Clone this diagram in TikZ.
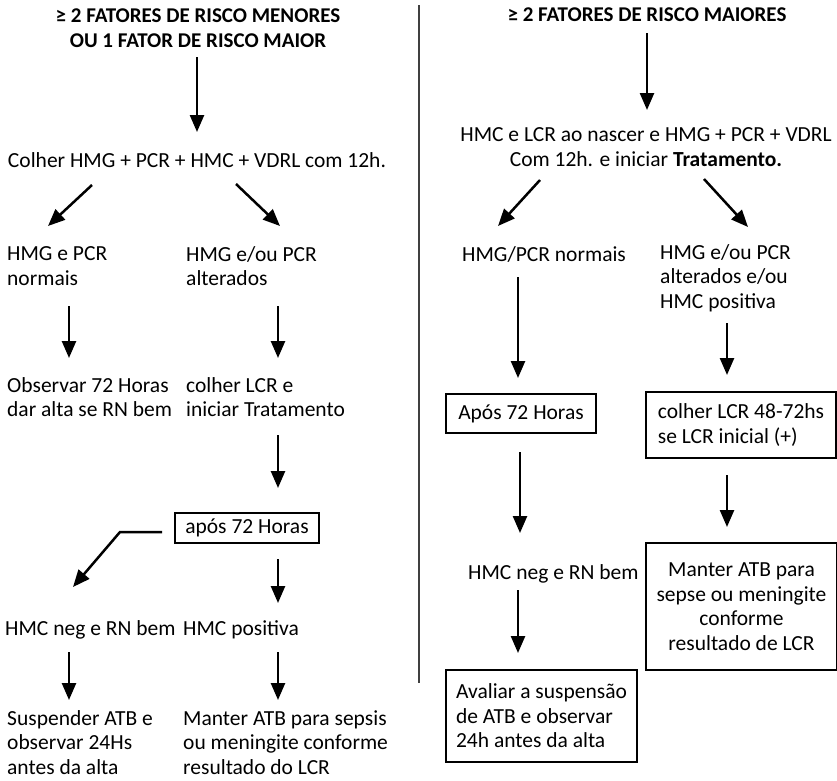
\documentclass[tikz,border=0pt]{standalone}
\usepackage{fontspec}
\setmainfont{Carlito}
\usetikzlibrary{arrows.meta}
\begin{document}
\begin{tikzpicture}[x=1pt,y=-1pt,
  txt/.style={inner sep=0pt, align=left, anchor=west, font=\fontsize{21.5}{24.5}\selectfont},
  ctxt/.style={inner sep=0pt, align=center, font=\fontsize{21.5}{24.5}\selectfont},
  head/.style={inner sep=0pt, align=center, font=\fontsize{21}{24.5}\selectfont\bfseries},
  box/.style={draw, line width=2pt, inner sep=0pt, font=\fontsize{21.5}{24.5}\selectfont},
  arr/.style={line width=2.5pt, -{Triangle[length=17pt,width=14pt]}},
  divider/.style={line width=1.2pt, black!75}]
\useasboundingbox (0,0) rectangle (837,780);

% ---------- left branch: minor risk factors ----------
\node[head] (t1) at (198,28) {≥ 2 FATORES DE RISCO MENORES\\OU 1 FATOR DE RISCO MAIOR};
\node[ctxt] (c1) at (197,160) {Colher HMG + PCR + HMC + VDRL com 12h.};
\node[txt] (l1) at (7,266) {HMG e PCR\\normais};
\node[txt] (r1) at (186,266) {HMG e/ou PCR\\alterados};
\node[txt] (l2) at (7,397) {Observar 72 Horas\\dar alta se RN bem};
\node[txt] (r2) at (186,397) {colher LCR e\\iniciar Tratamento};
\node[box, minimum width=144pt, minimum height=30pt] (b1) at (247,528) {após 72 Horas};
\node[txt] (l3) at (5,630) {HMC neg e RN bem};
\node[txt] (r3) at (183,630) {HMC positiva};
\node[txt] (l4) at (7,742.5) {Suspender ATB e\\observar 24Hs\\antes da alta};
\node[txt] (r4) at (183,742.5) {Manter ATB para sepsis\\ou meningite conforme\\resultado do LCR};

% ---------- right branch: major risk factors ----------
\node[head] (t2) at (647,15) {≥ 2 FATORES DE RISCO MAIORES};
\node[ctxt] (c2) at (646,147) {HMC e LCR ao nascer e HMG + PCR + VDRL\\Com 12h. e iniciar \textbf{Tratamento.}};
\node[txt] (L1) at (462,254) {HMG/PCR normais};
\node[txt] (R1) at (660,278) {HMG e/ou PCR\\alterados e/ou\\HMC positiva};
\node[box, minimum width=150pt, minimum height=39pt] (B2) at (521,413.5) {Após 72 Horas};
\node[box, minimum width=190pt, minimum height=66pt, align=left] (B3) at (741,425) {colher LCR 48-72hs\\se LCR inicial (+)};
\node[txt] (L3) at (468,574) {HMC neg e RN bem};
\node[box, minimum width=191pt, minimum height=127pt, align=center] (B4) at (741.5,606.5) {Manter ATB para\\sepse ou meningite\\conforme\\resultado de LCR};
\node[box, minimum width=191pt, minimum height=92pt, align=left] (B5) at (541.5,716) {Avaliar a suspensão\\de ATB e observar\\24h antes da alta};

% separator between the two branches
\coordinate (dvt) at (419,5);
\coordinate (dvb) at (419,683);
\draw[divider] (dvt) -- (dvb);

% ---------- connector end points ----------
\coordinate (a1s) at (197,57);   \coordinate (a1e) at (197,132);
\coordinate (a2s) at (92,185);   \coordinate (a2e) at (48,226);
\coordinate (a3s) at (236,184);  \coordinate (a3e) at (280,226);
\coordinate (a4s) at (69,306);   \coordinate (a4e) at (69,358);
\coordinate (a5s) at (278,306);  \coordinate (a5e) at (278,358);
\coordinate (a6s) at (278,435);  \coordinate (a6e) at (278,488);
\coordinate (a7s) at (162,532);  \coordinate (a7k) at (120,532);  \coordinate (a7e) at (73,587);
\coordinate (a8s) at (278,559);  \coordinate (a8e) at (278,603);
\coordinate (a9s) at (69,652);   \coordinate (a9e) at (69,700);
\coordinate (a10s) at (278,652); \coordinate (a10e) at (278,700);

\coordinate (A1s) at (647,33);   \coordinate (A1e) at (647,110);
\coordinate (A2s) at (540,180);  \coordinate (A2e) at (498,226);
\coordinate (A3s) at (704,179);  \coordinate (A3e) at (748,227);
\coordinate (A4s) at (518,277);  \coordinate (A4e) at (518,378);
\coordinate (A5s) at (727,323);  \coordinate (A5e) at (727,375);
\coordinate (A6s) at (520,452);  \coordinate (A6e) at (520,533);
\coordinate (A7s) at (727,475);  \coordinate (A7e) at (727,527);
\coordinate (A8s) at (518,590);  \coordinate (A8e) at (518,653);

% ---------- connectors ----------
\draw[arr] (a1s) -- (a1e);
\draw[arr] (a2s) -- (a2e);
\draw[arr] (a3s) -- (a3e);
\draw[arr] (a4s) -- (a4e);
\draw[arr] (a5s) -- (a5e);
\draw[arr] (a6s) -- (a6e);
\draw[arr] (a7s) -- (a7k) -- (a7e);
\draw[arr] (a8s) -- (a8e);
\draw[arr] (a9s) -- (a9e);
\draw[arr] (a10s) -- (a10e);

\draw[arr] (A1s) -- (A1e);
\draw[arr] (A2s) -- (A2e);
\draw[arr] (A3s) -- (A3e);
\draw[arr] (A4s) -- (A4e);
\draw[arr] (A5s) -- (A5e);
\draw[arr] (A6s) -- (A6e);
\draw[arr] (A7s) -- (A7e);
\draw[arr] (A8s) -- (A8e);
\end{tikzpicture}
\end{document}
